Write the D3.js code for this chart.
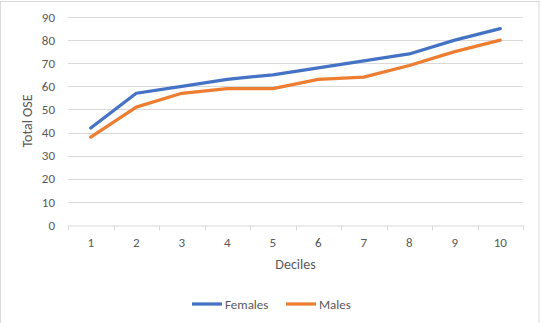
<!DOCTYPE html>
<html>
<head>
<meta charset="utf-8">
<script src="https://cdn.jsdelivr.net/npm/d3@7"></script>
<style>
  body { margin: 0; background: #fff; }
  text { font-family: Carlito, "Open Sans", "Noto Sans", sans-serif; fill: #595959; }
</style>
</head>
<body>
<div id="chart"></div>
<script>
const deciles = ['1', '2', '3', '4', '5', '6', '7', '8', '9', '10']
const females = [42, 57, 60, 63, 65, 68, 71, 74, 80, 85]
const males = [38, 51, 57, 59, 59, 63, 64, 69, 75, 80]
const yTicks = [0, 10, 20, 30, 40, 50, 60, 70, 80, 90]

const series = [
  { name: 'Females', values: females, color: '#4472C4' },
  { name: 'Males', values: males, color: '#ED7D31' },
]

const width = 541
const height = 323
const margin = { top: 17, right: 18, bottom: 98, left: 68 }

const svg = d3
  .select('#chart')
  .append('svg')
  .attr('width', width)
  .attr('height', height)

// outer chart border
svg
  .append('rect')
  .attr('x', 0.5)
  .attr('y', 1.5)
  .attr('width', 538.5)
  .attr('height', 325)
  .attr('fill', 'none')
  .attr('stroke', '#d9d9d9')

const x = d3
  .scaleBand()
  .domain(deciles)
  .range([margin.left, width - margin.right])

const y = d3
  .scaleLinear()
  .domain([0, 90])
  .range([height - margin.bottom, margin.top])

// gridlines
svg
  .append('g')
  .selectAll('line')
  .data(yTicks.filter((d) => d > 0))
  .join('line')
  .attr('x1', margin.left)
  .attr('x2', width - margin.right)
  .attr('y1', (d) => Math.round(y(d)) + 0.5)
  .attr('y2', (d) => Math.round(y(d)) + 0.5)
  .attr('stroke', '#d9d9d9')
  .attr('stroke-width', 1)

// y axis labels
const yAxis = svg
  .append('g')
  .attr('transform', `translate(${margin.left},0)`)
  .call(d3.axisLeft(y).tickValues(yTicks).tickSize(0).tickPadding(13))
yAxis.select('.domain').remove()
yAxis.selectAll('text').attr('font-size', 13).attr('fill', '#595959')

// x axis
const xAxis = svg
  .append('g')
  .attr('transform', `translate(0,${Math.round(y(0)) + 0.5})`)
  .call(d3.axisBottom(x).tickSize(0).tickPadding(12))
xAxis.select('.domain').attr('stroke', '#d9d9d9')
xAxis.selectAll('text').attr('font-size', 13).attr('fill', '#595959')
xAxis
  .append('g')
  .selectAll('line')
  .data(d3.range(deciles.length + 1))
  .join('line')
  .attr('x1', (i) => Math.round(margin.left + i * x.bandwidth()) + 0.5)
  .attr('x2', (i) => Math.round(margin.left + i * x.bandwidth()) + 0.5)
  .attr('y1', 0)
  .attr('y2', 5)
  .attr('stroke', '#d9d9d9')

// axis titles
svg
  .append('text')
  .attr('transform', `translate(32,${(margin.top + height - margin.bottom) / 2}) rotate(-90)`)
  .attr('text-anchor', 'middle')
  .attr('font-size', 14)
  .text('Total OSE')

svg
  .append('text')
  .attr('x', (margin.left + width - margin.right) / 2)
  .attr('y', 269)
  .attr('text-anchor', 'middle')
  .attr('font-size', 14)
  .text('Deciles')

// lines
const line = d3
  .line()
  .x((d, i) => x(deciles[i]) + x.bandwidth() / 2)
  .y((d) => y(d))

svg
  .append('g')
  .selectAll('path')
  .data(series)
  .join('path')
  .attr('d', (d) => line(d.values))
  .attr('fill', 'none')
  .attr('stroke', (d) => d.color)
  .attr('stroke-width', 3.25)
  .attr('stroke-linejoin', 'round')
  .attr('stroke-linecap', 'round')

// legend
const legendX = [192, 286]
const legend = svg
  .append('g')
  .selectAll('g')
  .data(series)
  .join('g')
  .attr('transform', (d, i) => `translate(${legendX[i]},304)`)

legend
  .append('line')
  .attr('x1', 0)
  .attr('x2', 30)
  .attr('stroke', (d) => d.color)
  .attr('stroke-width', 3.25)

legend
  .append('text')
  .attr('x', 33)
  .attr('dy', '0.35em')
  .attr('font-size', 13)
  .text((d) => d.name)
</script>
</body>
</html>
